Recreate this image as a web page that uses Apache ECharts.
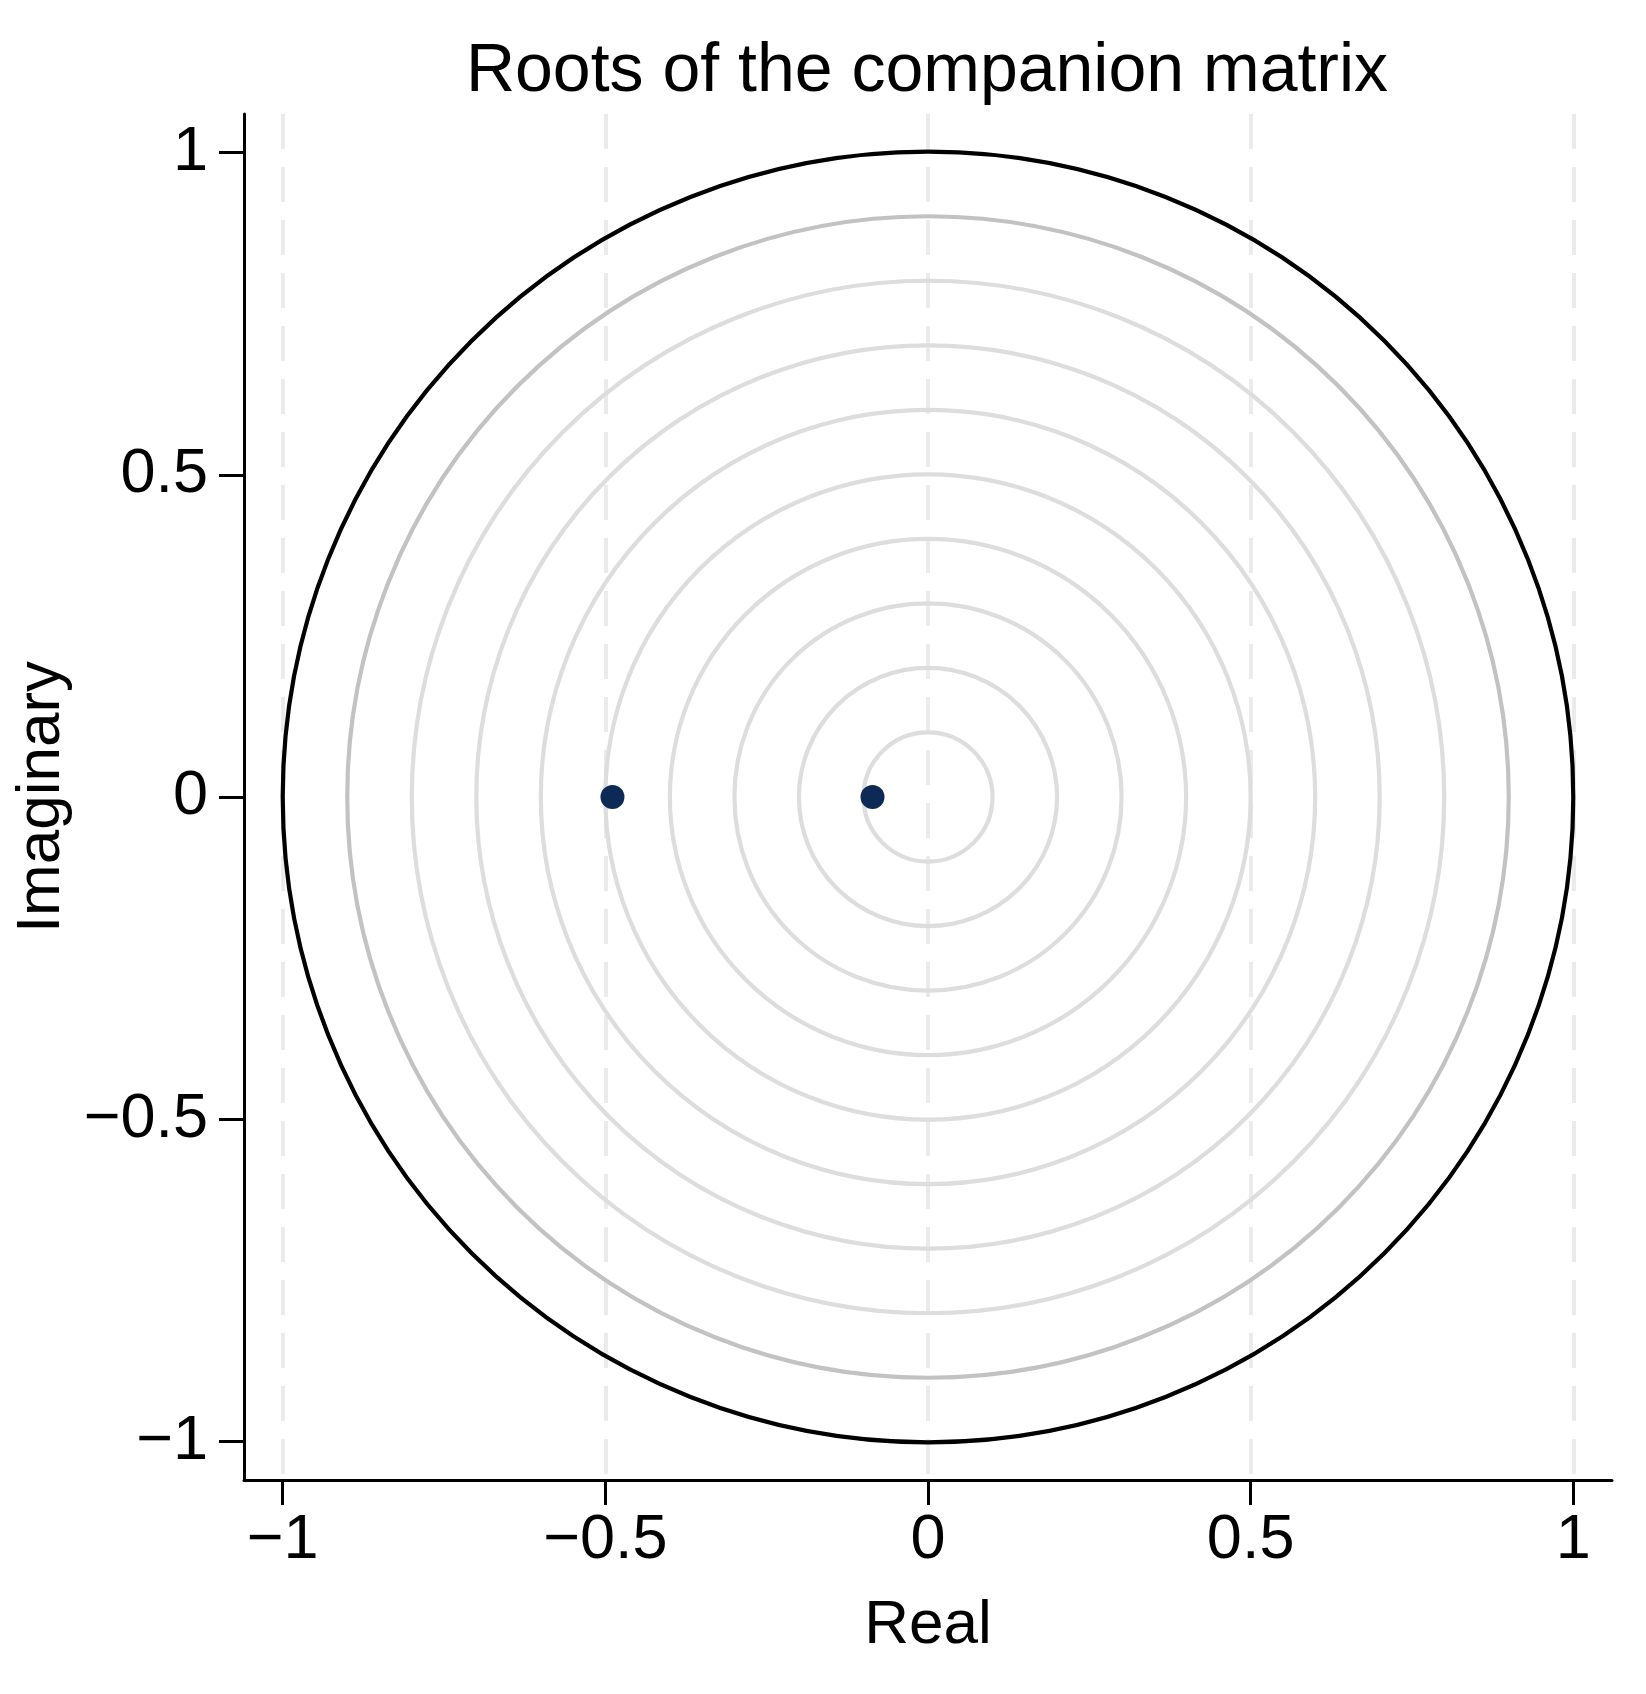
<!DOCTYPE html>
<html>
<head>
<meta charset="utf-8">
<script src="https://cdn.jsdelivr.net/npm/echarts@6/dist/echarts.min.js"></script>
<style>
  html, body { margin: 0; padding: 0; background: #ffffff; }
  #chart { width: 1646px; height: 1694px; }
</style>
</head>
<body>
<div id="chart"></div>
<script>
// eigenvalues of the companion matrix
var realParts = [-0.489, -0.086];
var imagParts = [0, 0];
// reference circles (modulus)
var circleRadii = [0.1, 0.2, 0.3, 0.4, 0.5, 0.6, 0.7, 0.8, 0.9, 1];
var tickValues = [-1, -0.5, 0, 0.5, 1];

var FONT = "'Liberation Sans', Arial, sans-serif";

function fmt(v) {
  return String(v).replace('-', '\u2212');
}

function circleColor(r) {
  if (r === 1) return '#000000';
  if (r === 0.9) return '#c2c2c2';
  return '#dddddd';
}

var roots = realParts.map(function (x, i) { return [x, imagParts[i]]; });
var circles = circleRadii.map(function (r) { return [r, 0]; });
var dashed = tickValues.map(function (v) {
  return [{ coord: [v, 1.06] }, { coord: [v, -1.06] }];
});

var myChart = echarts.init(document.getElementById('chart'), null, { renderer: 'canvas' });
myChart.setOption({
  animation: false,
  backgroundColor: '#ffffff',
  title: {
    text: 'Roots of the companion matrix',
    left: 922,
    top: 33,
    textAlign: 'center',
    textStyle: { fontFamily: FONT, fontSize: 68, fontWeight: 'normal', color: '#000000' }
  },
  grid: { left: 244, right: 34, top: 114, bottom: 214, containLabel: false },
  xAxis: {
    type: 'value',
    min: -1.06,
    max: 1.06,
    name: 'Real',
    nameLocation: 'middle',
    nameGap: 115,
    nameTextStyle: { fontFamily: FONT, fontSize: 62, color: '#000000' },
    axisLine: { show: true, onZero: false, lineStyle: { color: '#000000', width: 3 } },
    axisTick: { show: true, length: 25, customValues: tickValues, lineStyle: { color: '#000000', width: 3 } },
    axisLabel: {
      customValues: tickValues,
      margin: 29,
      fontFamily: FONT,
      fontSize: 63,
      color: '#000000',
      formatter: fmt
    },
    splitLine: { show: false }
  },
  yAxis: {
    type: 'value',
    min: -1.06,
    max: 1.06,
    name: 'Imaginary',
    nameLocation: 'middle',
    nameGap: 162,
    nameTextStyle: { fontFamily: FONT, fontSize: 62, color: '#000000' },
    axisLine: { show: true, onZero: false, lineStyle: { color: '#000000', width: 3 } },
    axisTick: { show: true, length: 25, customValues: tickValues, lineStyle: { color: '#000000', width: 3 } },
    axisLabel: {
      customValues: tickValues,
      margin: 36,
      fontFamily: FONT,
      fontSize: 63,
      color: '#000000',
      formatter: fmt
    },
    splitLine: { show: false }
  },
  series: [
    {
      // dashed vertical grid lines, kept under the circles
      type: 'line',
      data: [],
      z: 1,
      silent: true,
      markLine: {
        silent: true,
        z: 1,
        symbol: 'none',
        label: { show: false },
        lineStyle: { color: '#ebebeb', width: 4, type: [35, 18] },
        emphasis: { disabled: true },
        data: dashed
      }
    },
    {
      type: 'custom',
      z: 10,
      silent: true,
      data: circles,
      encode: { x: 0, y: 1 },
      renderItem: function (params, api) {
        var r = api.value(0);
        var c = api.coord([0, 0]);
        var rp = api.size([r, 0])[0];
        return {
          type: 'circle',
          z2: 10,
          shape: { cx: c[0], cy: c[1], r: rp },
          style: { fill: 'none', stroke: circleColor(r), lineWidth: 4.2 }
        };
      }
    },
    {
      type: 'scatter',
      z: 20,
      data: roots,
      symbol: 'circle',
      symbolSize: 24,
      itemStyle: { color: '#0d2a56', opacity: 1 }
    }
  ]
});
</script>
</body>
</html>
